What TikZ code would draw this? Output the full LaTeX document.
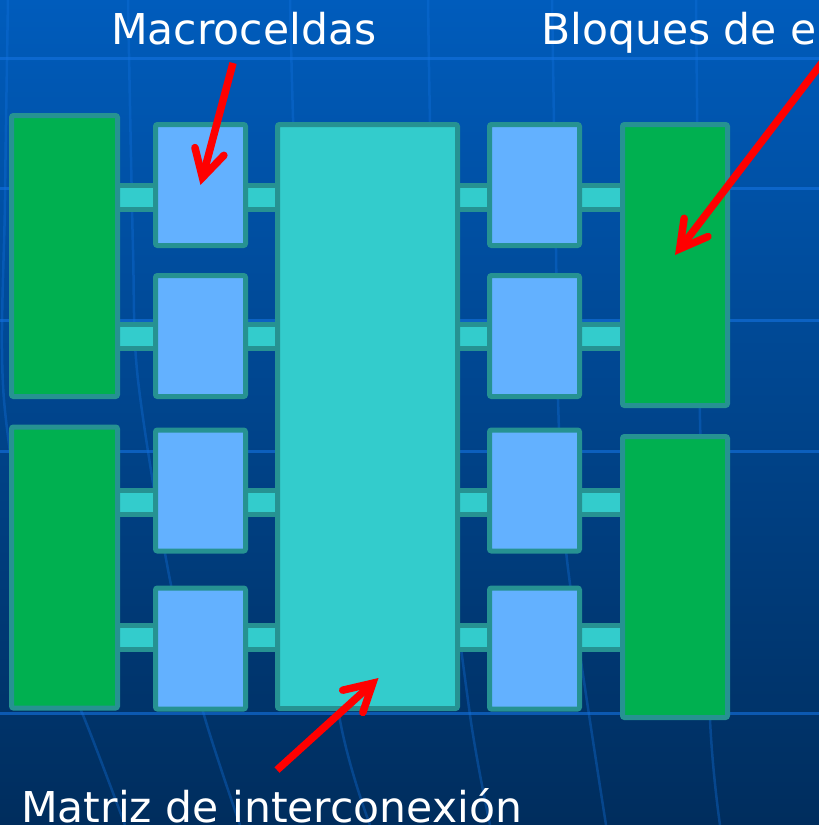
\documentclass[tikz,border=0pt]{standalone}
\usepackage{fontspec}
\setmainfont{DejaVu Sans}
\usetikzlibrary{arrows.meta}
\definecolor{bgtop}{RGB}{0,92,188}
\definecolor{bgbot}{RGB}{0,45,93}
\definecolor{gridblue}{RGB}{20,115,225}
\definecolor{iogreen}{RGB}{0,176,80}
\definecolor{cellblue}{RGB}{99,177,255}
\definecolor{mtxcyan}{RGB}{51,204,204}
\definecolor{rimteal}{RGB}{38,146,146}
\begin{document}
\begin{tikzpicture}[x=1pt,y=-1pt,
    blk/.style={draw=rimteal,line width=5pt,rounded corners=2pt,inner sep=0pt,minimum width=90pt,minimum height=121pt},
    iob/.style={blk,fill=iogreen,minimum width=106pt,minimum height=281pt},
    cell/.style={blk,fill=cellblue},
    mtx/.style={blk,fill=mtxcyan,minimum width=180pt,minimum height=584pt},
    bus/.style={draw=rimteal,fill=mtxcyan,line width=5pt},
    callout/.style={red,line width=7.5pt,-{Straight Barb[length=27pt,width=30pt,line cap=round,line join=miter]}},
    lbl/.style={white,anchor=base west,inner sep=0pt,font=\fontsize{42.5}{50}\selectfont},
    gline/.style={gridblue,line width=3pt,opacity=.6},
    gcurve/.style={gridblue,line width=2.5pt,opacity=.35}]
    \useasboundingbox (0,0) rectangle (819,825);
    \shade[top color=bgtop,bottom color=bgbot] (0,0) rectangle (819,825);
    \clip (0,0) rectangle (819,825);
    % background grid
    \foreach \gy in {58,188,320,451,713}
      \draw[gline] (0,\gy) -- (819,\gy);
    \draw[gcurve] plot[smooth] coordinates {(8,0) (5,200) (4,400) (40,620) (83,715) (125,825)};
    \draw[gcurve] plot[smooth] coordinates {(128,0) (133,250) (138,380) (170,580) (204,715) (240,825)};
    \draw[gcurve] plot[smooth] coordinates {(290,0) (294,150) (305,450) (339,715) (370,825)};
    \draw[gcurve] plot[smooth] coordinates {(428,0) (432,200) (445,500) (470,715) (490,825)};
    \draw[gcurve] plot[smooth] coordinates {(552,0) (556,250) (558,400) (567,560) (606,825)};
    \draw[gcurve] plot[smooth] coordinates {(696,0) (698,200) (700,420) (710,720) (720,825)};
    % buses
    \foreach \by in {197.5,336.5,502.5,637}
      \draw[bus] (110,\by-12) rectangle (630,\by+12);
    % blocks
    \node[iob] (ioLT) at (64.5,256) {};
    \node[iob] (ioLB) at (64.5,567.5) {};
    \node[iob,minimum width=105pt] (ioRT) at (675,265) {};
    \node[iob,minimum width=105pt] (ioRB) at (675,577) {};
    \node[mtx] (pim) at (367.5,416.5) {};
    \node[cell] (mcL1) at (200.5,185) {};
    \node[cell] (mcL2) at (200.5,336) {};
    \node[cell] (mcL3) at (200.5,490.5) {};
    \node[cell] (mcL4) at (200.5,648.5) {};
    \node[cell] (mcR1) at (534.5,185) {};
    \node[cell] (mcR2) at (534.5,336) {};
    \node[cell] (mcR3) at (534.5,490.5) {};
    \node[cell] (mcR4) at (534.5,648.5) {};
    % labels
    \node[lbl] (mc) at (111,44) {Macroceldas};
    \node[lbl] (bes) at (541,44) {Bloques de e};
    \node[lbl] (pia) at (21,822) {Matriz de interconexión};
    \coordinate (mcFrom) at (233,63);
    \coordinate (besFrom) at (834,47);
    \coordinate (piaFrom) at (277,770);
    \draw[callout] (mcFrom) -- (mcL1.center);
    \draw[callout] (besFrom) -- ([yshift=10pt]ioRT.center);
    \draw[callout] (piaFrom) -- ([xshift=11pt,yshift=33pt]pim.south);
  \end{tikzpicture}
\end{document}
